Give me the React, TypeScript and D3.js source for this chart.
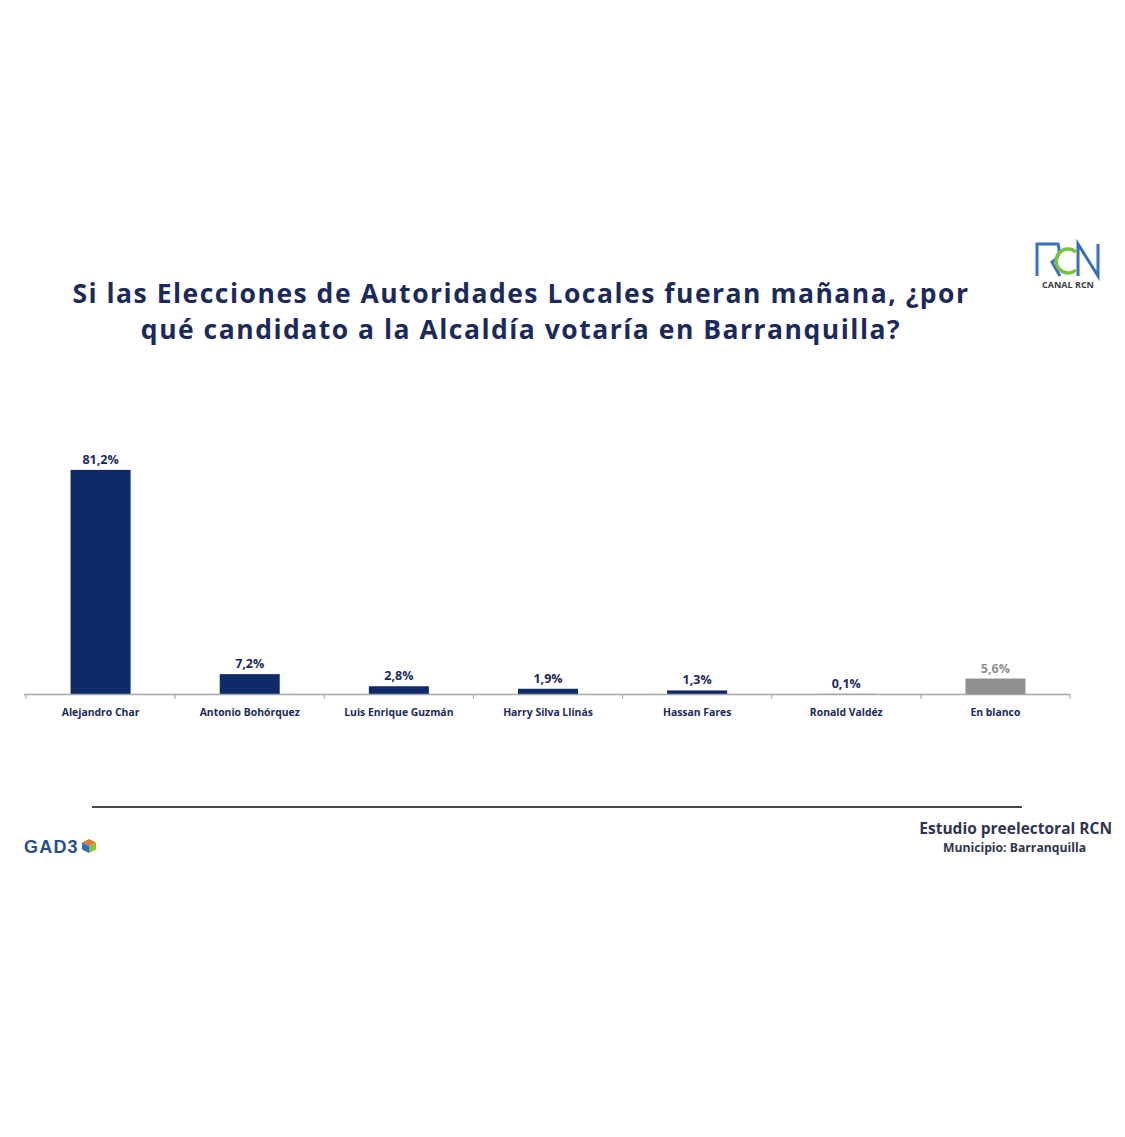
import React from "react";
import * as d3 from "d3";

const categories = [
  "Alejandro Char",
  "Antonio Bohórquez",
  "Luis Enrique Guzmán",
  "Harry Silva Llinás",
  "Hassan Fares",
  "Ronald Valdéz",
  "En blanco",
];
const values = [81.2, 7.2, 2.8, 1.9, 1.3, 0.1, 5.6];
const valueLabels = ["81,2%", "7,2%", "2,8%", "1,9%", "1,3%", "0,1%", "5,6%"];
const titleLines = [
  "Si las Elecciones de Autoridades Locales fueran mañana, ¿por",
  "qué candidato a la Alcaldía votaría en Barranquilla?",
];

const W = 1125;
const H = 1137;
const NAVY = "#0e2a68";
const GREY = "#8f8f8f";
const TEXT = "#1b2a5c";

export default function App() {
  const x = d3.scaleBand<string>().domain(categories).range([26, 1070]).paddingInner(0).paddingOuter(0);
  const baseY = 694;
  const y = d3.scaleLinear().domain([0, 100]).range([baseY, baseY - 276]);
  const bw = 60;
  const boundaries = categories.map((c) => x(c)!).concat([x.range()[1]]);

  return (
    <svg width={W} height={H} style={{ position: "absolute", left: 0, top: 0, background: "#fff" }}>
      <rect x={0} y={0} width={W} height={H} fill="#fff" />
      {/* Title */}
      <g fontFamily="'Open Sans', sans-serif" fontWeight={700} fontSize={26.5} letterSpacing={1.5} fill={TEXT} textAnchor="middle">
        {titleLines.map((t, i) => (
          <text key={i} x={521} y={303 + i * 36}>{t}</text>
        ))}
      </g>

      {/* RCN logo */}
      <g>
        <path d="M1037,276 L1037,244 L1058,244 Q1062,256 1052,262 L1060,276" fill="none" stroke="#3a6fc4" strokeWidth={3} />
        <path d="M1078,276 L1078,244 L1098,276 L1098,244" fill="none" stroke="#3a6fc4" strokeWidth={3} />
        <path d="M1076,252 A12,12 0 1 0 1076,270" fill="none" stroke="#7cc242" strokeWidth={3.5} />
        <text x={1068} y={288} textAnchor="middle" fontFamily="'Open Sans', sans-serif" fontWeight={700} fontSize={9} fill="#3c3c3c">CANAL RCN</text>
      </g>

      {/* Bars */}
      {categories.map((c, i) => {
        const cx = x(c)! + x.bandwidth() / 2;
        const col = i === categories.length - 1 ? GREY : NAVY;
        const top = y(values[i]);
        return (
          <g key={c}>
            <rect x={cx - bw / 2} y={top} width={bw} height={Math.max(baseY - top, 1)} fill={i === 5 ? "#9aa0b4" : col} />
            <text x={cx} y={top - 6} textAnchor="middle" fontFamily="'Open Sans', sans-serif" fontWeight={700} fontSize={12.5} fill={i === categories.length - 1 ? GREY : TEXT}>
              {valueLabels[i]}
            </text>
            <text x={cx} y={716} textAnchor="middle" fontFamily="'Open Sans', sans-serif" fontWeight={700} fontSize={10.4} fill={TEXT}>
              {c}
            </text>
          </g>
        );
      })}

      {/* Axis */}
      <line x1={24} x2={1070} y1={baseY + 0.5} y2={baseY + 0.5} stroke="#a6a6a6" strokeWidth={1.5} />
      {boundaries.map((b, i) => (
        <line key={i} x1={b} x2={b} y1={baseY} y2={baseY + 5} stroke="#a6a6a6" strokeWidth={1} />
      ))}

      {/* Footer rule */}
      <line x1={92} x2={1022} y1={807} y2={807} stroke="#4a4a4a" strokeWidth={2} />

      {/* GAD3 */}
      <text x={24} y={853} fontFamily="'Liberation Sans', Arial, sans-serif" fontWeight={700} fontSize={18} letterSpacing={1.2} fill="#2a4d8f">GAD3</text>
      <g transform="translate(89,846)">
        <polygon points="0,-7 7,-3.5 0,0 -7,-3.5" fill="#e07b2a" />
        <polygon points="-7,-3.5 0,0 0,7 -7,3.5" fill="#2f6db5" />
        <polygon points="7,-3.5 0,0 0,7 7,3.5" fill="#8cbf3f" />
      </g>

      {/* Source */}
      <text x={1112} y={834} textAnchor="end" fontFamily="'Open Sans', sans-serif" fontWeight={700} fontSize={15.5} fill="#2f3550">Estudio preelectoral RCN</text>
      <text x={1086} y={852} textAnchor="end" fontFamily="'Open Sans', sans-serif" fontWeight={700} fontSize={12.2} fill="#2f3550">Municipio: Barranquilla</text>
    </svg>
  );
}
